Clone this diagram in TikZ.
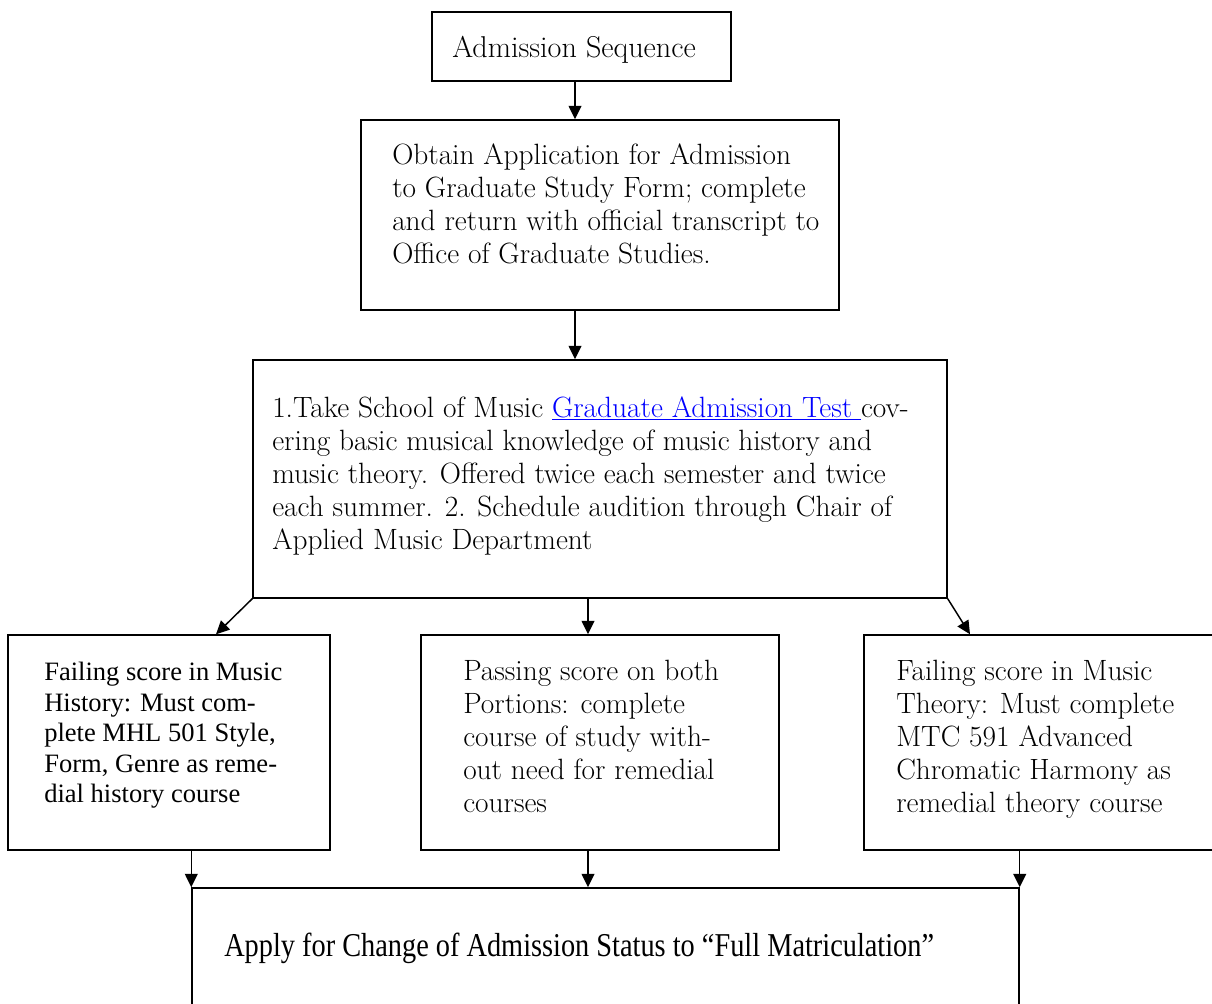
\documentclass[tikz,border=0pt]{standalone}
\usepackage{fontspec}
\usetikzlibrary{arrows.meta}
\newfontfamily\timesf{Liberation Serif}
\newfontfamily\condf[FakeStretch=0.85]{Liberation Serif}
\definecolor{linkblue}{RGB}{0,0,255}
\begin{document}
\begin{tikzpicture}[x=0.75pt,y=-0.75pt,
  boxst/.style={draw, line width=1.1pt, inner sep=0pt},
  txt/.style={anchor=north west, inner sep=0pt, align=left, font=\fontsize{22}{24.75}\selectfont\addfontfeature{FakeBold=1.5}},
  ttxt/.style={anchor=north west, inner sep=0pt, align=left, font=\timesf\fontsize{19.9}{22.9}\selectfont},
  arr/.style={line width=1.1pt, -{Triangle[length=10pt,width=9.5pt]}}]
\useasboundingbox (0,0) rectangle (1212,1003);
\clip (0,0) rectangle (1212,1003);
% boxes
\node[boxst, minimum width=224.25pt, minimum height=51.75pt] (top) at (581.5,46.5) {};
\node[boxst, minimum width=358.5pt, minimum height=142.5pt] (b2) at (600,215) {};
\node[boxst, minimum width=520.5pt, minimum height=178.5pt] (b3) at (600,479) {};
\node[boxst, minimum width=241.5pt, minimum height=161.25pt] (b4) at (169,742.5) {};
\node[boxst, minimum width=268.5pt, minimum height=161.25pt] (b5) at (600,742.5) {};
\node[boxst, minimum width=274.5pt, minimum height=161.25pt] (b6) at (1047,742.5) {};
\node[boxst, minimum width=620.25pt, minimum height=99pt] (b7) at (605.5,954) {};
% texts
\node[txt, font=\fontsize{22.6}{25}\selectfont\addfontfeature{FakeBold=2.5}] (t1) at (452,36) {Admission Sequence};
\node[txt] (t2) at (392,143) {Obtain Application for Admission\\to Graduate Study Form; complete\\and return with official transcript to\\Office of Graduate Studies.};
\node[txt] (t3) at (272,396) {1.Take School of Music \textcolor{linkblue}{\underline{Graduate Admission Test\ }}cov-\\ering basic musical knowledge of music history and\\music theory. Offered twice each semester and twice\\each summer. 2. Schedule audition through Chair of\\Applied Music Department};
\node[ttxt] (t4) at (44,662) {Failing score in Music\\History: Must com-\\plete MHL 501 Style,\\Form, Genre as reme-\\dial history course};
\node[txt] (t5) at (463,660) {Passing score on both\\Portions: complete\\course of study with-\\out need for remedial\\courses};
\node[txt] (t6) at (896,660) {Failing score in Music\\Theory: Must complete\\MTC 591 Advanced\\Chromatic Harmony as\\remedial theory course};
\node[anchor=north west, inner sep=0pt, font=\condf\fontsize{25}{28}\selectfont] (t7) at (224,933) {Apply for Change of Admission Status to “Full Matriculation”};
% arrows
\draw[arr] (top.south -| 575,0) -- (b2.north -| 575,0);
\draw[arr] (b2.south -| 575,0) -- (b3.north -| 575,0);
\draw[arr] (b3.south west) -- (b4.north -| 216,0);
\draw[arr] (b3.south -| 588,0) -- (b5.north -| 588,0);
\draw[arr] (b3.south east) -- (b6.north -| 970,0);
\draw[arr] (b4.south -| b7.north west) -- (b7.north west);
\draw[arr] (b5.south -| 588,0) -- (b7.north -| 588,0);
\draw[arr] (b6.south -| b7.north east) -- (b7.north east);
\end{tikzpicture}
\end{document}
